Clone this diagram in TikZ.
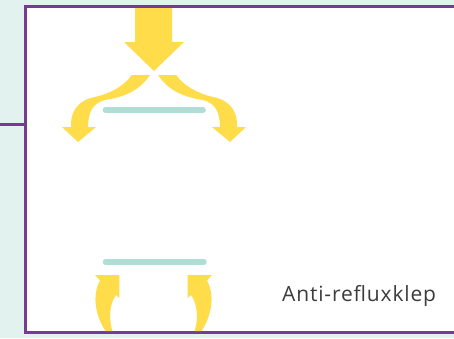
\documentclass[tikz,border=0pt]{standalone}
\usepackage{fontspec}
\newfontfamily\labelfont[LetterSpace=4]{Open Sans}
\usepackage{tikz}
\definecolor{bgteal}{HTML}{E2F2EF}
\definecolor{mypurple}{HTML}{7A3A94}
\definecolor{myyellow}{HTML}{FFDC4A}
\definecolor{valveteal}{HTML}{B0DED6}
\definecolor{labelgray}{HTML}{3C3C3C}
\tikzstyle{flow} = [fill=myyellow]
\tikzstyle{valve} = [color=valveteal,line width=5.5pt,line cap=round]

\begin{document}
\begin{tikzpicture}[x=1pt,y=-1pt]
          % basics
          \useasboundingbox (0,0) rectangle (454,338);
          \fill [bgteal] (0,0) rectangle (454,338);
          % frame, as filled bands
          \fill [mypurple] (24,5) rectangle (454,334);
          \fill [mypurple] (0,122.7) rectangle (27,125.7);
          \fill [white] (27,8) rectangle (454,331);
          % inflow from above, split round the valve
          \fill [flow] (135,8) -- (172,8) -- (172,42) -- (184,42) -- (154,71) -- (124,42) -- (135,42) -- cycle;
          \fill [flow] (131.7,75) -- (150,75) .. controls (140,90) and (125,97) .. (105,100) .. controls (93,103) and (88,112) .. (88,127) -- (96,127) -- (78,142) -- (62,127) -- (71,127) .. controls (70,112) and (78,100) .. (95,97) .. controls (112,93) and (125,85) .. (131.7,75) -- cycle;
          \begin{scope}[xshift=308pt,xscale=-1]
            \fill [flow] (131.7,75) -- (150,75) .. controls (140,90) and (125,97) .. (105,100) .. controls (93,103) and (88,112) .. (88,127) -- (96,127) -- (78,142) -- (62,127) -- (71,127) .. controls (70,112) and (78,100) .. (95,97) .. controls (112,93) and (125,85) .. (131.7,75) -- cycle;
          \end{scope}
          % backflow from below
          \fill [flow] (95,275) -- (119.3,275) -- (119.3,298) -- (116,295) .. controls (110,303) and (108,318) .. (112.5,331) -- (105.5,331) .. controls (95,315) and (92,295) .. (100,280.5) -- cycle;
          \begin{scope}[xshift=307pt,xscale=-1]
            \fill [flow] (95,275) -- (119.3,275) -- (119.3,298) -- (116,295) .. controls (110,303) and (108,318) .. (112.5,331) -- (105.5,331) .. controls (95,315) and (92,295) .. (100,280.5) -- cycle;
          \end{scope}
          % valves
          \draw [valve] (105.5,110) -- (203,110);
          \draw [valve] (105.5,262) -- (204,262);
          \node [anchor=base west,inner sep=0pt,text=labelgray,font=\labelfont\fontsize{21}{24}\selectfont] (label) at (282,301) {Anti-refluxklep};
      \end{tikzpicture}
\end{document}
